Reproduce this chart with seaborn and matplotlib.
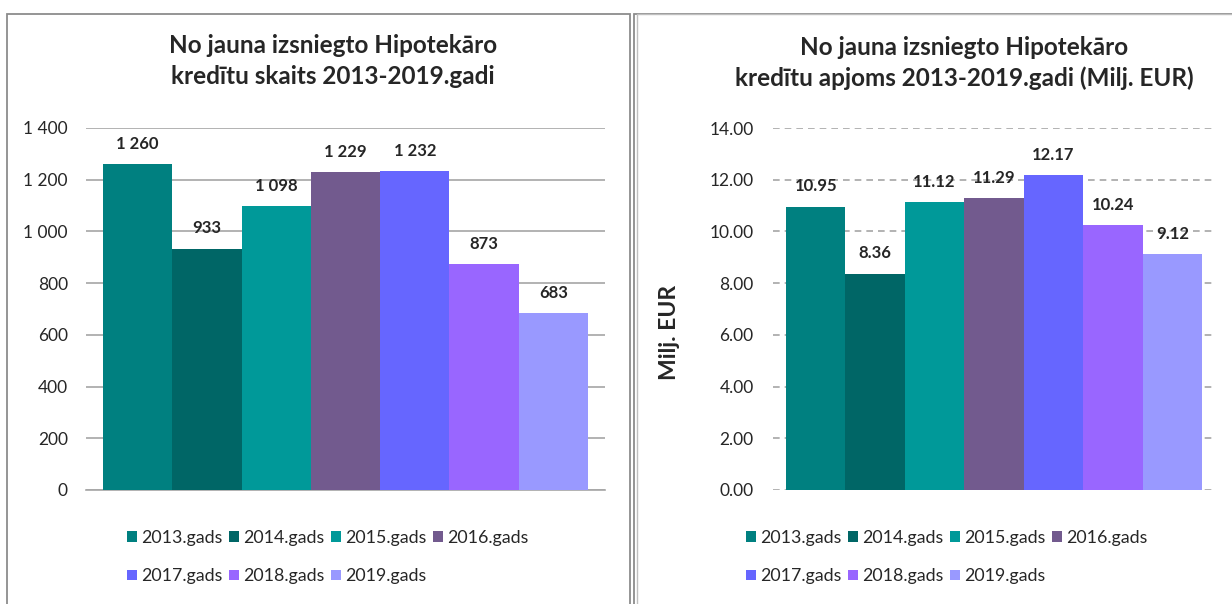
import pandas as pd
import seaborn as sns
import matplotlib.pyplot as plt
from matplotlib.patches import Rectangle, Patch

# data
years = ['2013.gads', '2014.gads', '2015.gads', '2016.gads', '2017.gads', '2018.gads', '2019.gads']
count_values = [1260, 933, 1098, 1229, 1232, 873, 683]
amount_values = [10.95, 8.36, 11.12, 11.29, 12.17, 10.24, 9.12]
colors = ['#008080', '#006666', '#009999', '#725A8E', '#6666FF', '#9966FF', '#9999FF']

left_title = 'No jauna izsniegto Hipotekāro\nkredītu skaits 2013-2019.gadi'
right_title = 'No jauna izsniegto Hipotekāro\nkredītu apjoms 2013-2019.gadi (Milj. EUR)'
right_ylabel = 'Milj. EUR'

sns.set_style('white')
plt.rcParams['font.family'] = ['Lato', 'DejaVu Sans']

W, H = 1232, 604
fig = plt.figure(figsize=(W / 100, H / 100), dpi=100)


def fx(px):
    return px / W


def fy(py):
    return 1 - py / H


# panel frames
for x0, x1 in [(7, 630), (634, 1260)]:
    fig.patches.append(Rectangle((fx(x0), fy(640)), fx(x1 - x0), (640 - 14) / H,
                                 transform=fig.transFigure, fill=False,
                                 edgecolor='#8C8C8C', linewidth=1.3))
fig.patches.append(Rectangle((fx(637), fy(640)), fx(600), (640 - 14) / H,
                             transform=fig.transFigure, fill=False,
                             edgecolor='#BFBFBF', linewidth=1.0))

ax1 = fig.add_axes([fx(86), fy(490), fx(519), 362 / H])
ax2 = fig.add_axes([fx(773), fy(490), fx(442), 362 / H])

df1 = pd.DataFrame({'cat': [''] * len(years), 'year': years, 'value': count_values})
df2 = pd.DataFrame({'cat': [''] * len(years), 'year': years, 'value': amount_values})

for ax, df in [(ax1, df1), (ax2, df2)]:
    sns.barplot(data=df, x='cat', y='value', hue='year', palette=colors,
                width=0.8, gap=0, saturation=1, legend=False, ax=ax,
                edgecolor='none', linewidth=0, zorder=3)
    ax.set_xlabel('')
    ax.set_ylabel('')
    ax.set_xticks([])
    for s in ['top', 'right', 'left']:
        ax.spines[s].set_visible(False)

# left chart
ax1.set_xlim(-0.428, 0.428)
ax1.set_ylim(0, 1400)
ax1.set_yticks(range(0, 1401, 200))
ax1.set_yticklabels([f'{v:,}'.replace(',', ' ') for v in range(0, 1401, 200)], fontsize=12.5)
ax1.tick_params(axis='y', length=0, pad=13)
ax1.grid(axis='y', color='#A6A6A6', linewidth=1.2, zorder=0)
ax1.spines['bottom'].set_color('#A6A6A6')
ax1.spines['bottom'].set_linewidth(1.2)
for cont, v in zip(ax1.containers, count_values):
    ax1.bar_label(cont, labels=[f'{v:,}'.replace(',', ' ')], padding=9,
                  fontsize=12, fontweight='bold')

# right chart
ax2.set_xlim(-0.425, 0.425)
ax2.set_ylim(0, 14)
ax2.set_yticks(range(0, 15, 2))
ax2.set_yticklabels([f'{v:.2f}' for v in range(0, 15, 2)], fontsize=12.5)
ax2.tick_params(axis='y', length=0, pad=14)
ax2.grid(axis='y', color='#A6A6A6', linewidth=1.2, linestyle=(0, (4, 3)), zorder=0)
ax2.spines['bottom'].set_visible(False)
for cont, v in zip(ax2.containers, amount_values):
    ax2.bar_label(cont, labels=[f'{v:.2f}'], padding=9,
                  fontsize=12, fontweight='bold')

fig.text(fx(670), fy(332), right_ylabel, rotation=90, ha='center', va='center',
         fontsize=16.5, fontweight='bold')

# titles
fig.text(fx(333), fy(61), left_title, ha='center', va='center', fontsize=17.5,
         fontweight='bold', linespacing=1.42)
fig.text(fx(964), fy(63), right_title, ha='center', va='center', fontsize=17.5,
         fontweight='bold', linespacing=1.42)

# legends, row-major order in two rows
order = [0, 4, 1, 5, 2, 6, 3]
handles = [Patch(facecolor=colors[i], edgecolor='none') for i in order]
labels = [years[i] for i in order]
for x0 in [127, 746]:
    fig.legend(handles, labels, ncol=4, loc='upper left',
               bbox_to_anchor=(fx(x0), fy(530)), frameon=False, fontsize=12.8,
               handlelength=0.56, handleheight=0.56, handletextpad=0.22,
               columnspacing=0.38, labelspacing=1.25, borderpad=0, borderaxespad=0)

fig.savefig('out.png', dpi=100)
